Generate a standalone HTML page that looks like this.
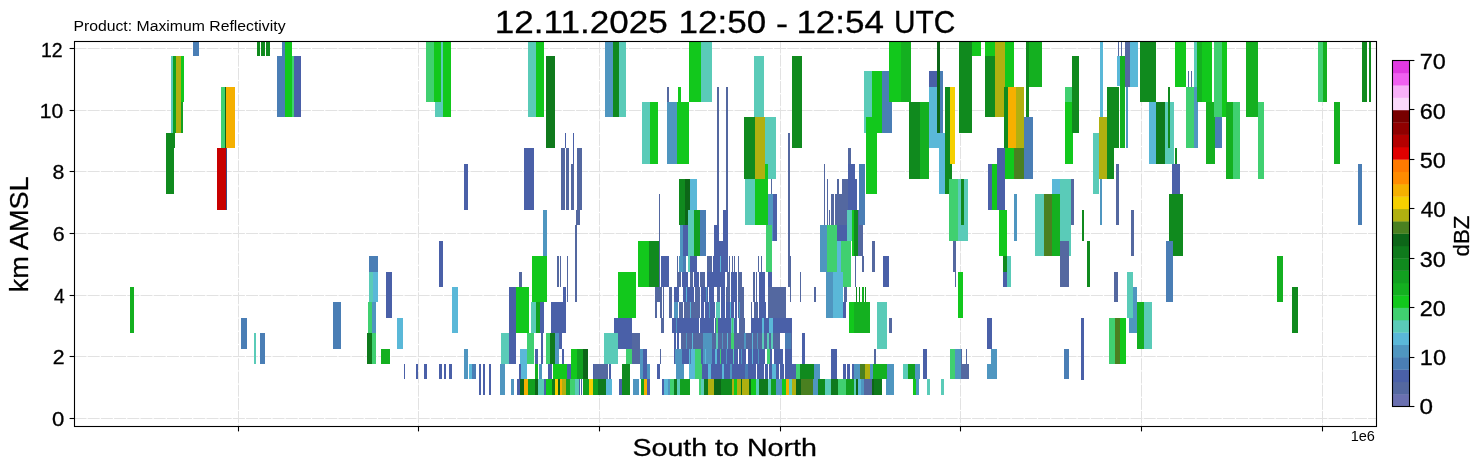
<!DOCTYPE html>
<html><head><meta charset="utf-8"><title>Radar cross-section</title>
<style>html,body{margin:0;padding:0;background:#fff;width:1482px;height:470px;overflow:hidden}body{position:relative}</style>
</head><body>
<svg width="1482" height="470" viewBox="0 0 1482 470" style="position:absolute;left:0;top:0;will-change:transform">
<rect x="0" y="0" width="1482" height="470" fill="#fff"/>
<g stroke="#e2e2e2" stroke-width="1" stroke-dasharray="12 1.2"><line x1="74.5" y1="418.50" x2="1376.5" y2="418.50"/><line x1="74.5" y1="356.50" x2="1376.5" y2="356.50"/><line x1="74.5" y1="295.50" x2="1376.5" y2="295.50"/><line x1="74.5" y1="233.50" x2="1376.5" y2="233.50"/><line x1="74.5" y1="171.50" x2="1376.5" y2="171.50"/><line x1="74.5" y1="110.50" x2="1376.5" y2="110.50"/><line x1="74.5" y1="48.50" x2="1376.5" y2="48.50"/><line x1="238.50" y1="41.5" x2="238.50" y2="426.5"/><line x1="418.50" y1="41.5" x2="418.50" y2="426.5"/><line x1="599.50" y1="41.5" x2="599.50" y2="426.5"/><line x1="780.50" y1="41.5" x2="780.50" y2="426.5"/><line x1="960.50" y1="41.5" x2="960.50" y2="426.5"/><line x1="1141.50" y1="41.5" x2="1141.50" y2="426.5"/><line x1="1322.50" y1="41.5" x2="1322.50" y2="426.5"/></g>
<g shape-rendering="crispEdges"><rect x="193.0" y="41.5" width="6.0" height="14.1" fill="#4a7eb5"/><rect x="257.0" y="41.5" width="3.0" height="14.1" fill="#108a1e"/><rect x="261.0" y="41.5" width="4.0" height="14.1" fill="#108a1e"/><rect x="266.0" y="41.5" width="4.0" height="14.1" fill="#108a1e"/><rect x="282.4" y="41.5" width="2.1" height="14.1" fill="#4a7eb5"/><rect x="284.5" y="41.5" width="7.5" height="14.1" fill="#12c81c"/><rect x="171.4" y="55.6" width="1.6" height="77.1" fill="#5acbb8"/><rect x="173.3" y="55.6" width="2.5" height="77.1" fill="#12a020"/><rect x="175.8" y="55.6" width="5.2" height="77.1" fill="#b0b010"/><rect x="181.0" y="55.6" width="2.9" height="46.3" fill="#12c81c"/><rect x="181.0" y="101.9" width="2.0" height="30.8" fill="#12a020"/><rect x="166.0" y="132.7" width="9.0" height="15.4" fill="#108a1e"/><rect x="166.0" y="148.1" width="7.6" height="46.3" fill="#108a1e"/><rect x="221.4" y="86.5" width="3.8" height="61.7" fill="#40d070"/><rect x="225.2" y="86.5" width="1.1" height="61.7" fill="#0d6618"/><rect x="226.3" y="86.5" width="8.7" height="61.7" fill="#f5b000"/><rect x="217.3" y="148.1" width="9.0" height="61.7" fill="#c80000"/><rect x="225.5" y="148.1" width="1.0" height="61.7" fill="#3c4a80"/><rect x="277.0" y="55.6" width="7.5" height="61.7" fill="#4a7eb5"/><rect x="284.5" y="55.6" width="7.9" height="61.7" fill="#12c81c"/><rect x="292.4" y="55.6" width="1.6" height="61.7" fill="#40d070"/><rect x="294.0" y="55.6" width="6.8" height="61.7" fill="#4a60a8"/><rect x="130.1" y="286.9" width="3.9" height="46.3" fill="#14b020"/><rect x="241.0" y="317.8" width="5.8" height="30.8" fill="#4a7eb5"/><rect x="254.2" y="333.2" width="1.8" height="30.8" fill="#5acbb8"/><rect x="260.0" y="333.2" width="5.0" height="30.8" fill="#4a7eb5"/><rect x="332.8" y="302.4" width="8.2" height="46.3" fill="#4a7eb5"/><rect x="426.0" y="41.5" width="8.0" height="60.4" fill="#40d070"/><rect x="434.0" y="41.5" width="7.0" height="60.4" fill="#12c81c"/><rect x="435.0" y="101.9" width="8.0" height="15.4" fill="#5acbb8"/><rect x="441.0" y="41.5" width="2.6" height="60.4" fill="#5acbb8"/><rect x="443.0" y="41.5" width="7.7" height="75.8" fill="#12c81c"/><rect x="528.0" y="41.5" width="7.8" height="75.8" fill="#5acbb8"/><rect x="535.8" y="41.5" width="7.8" height="75.8" fill="#12c81c"/><rect x="546.0" y="55.6" width="8.7" height="92.5" fill="#0f7a1c"/><rect x="464.0" y="163.6" width="4.0" height="46.3" fill="#4a60a8"/><rect x="524.4" y="148.1" width="9.6" height="61.7" fill="#4a60a8"/><rect x="565.0" y="132.7" width="1.0" height="15.4" fill="#4a60a8"/><rect x="573.0" y="132.7" width="1.0" height="30.8" fill="#4a60a8"/><rect x="561.0" y="148.1" width="3.7" height="61.7" fill="#5468a0"/><rect x="565.6" y="148.1" width="3.1" height="61.7" fill="#5468a0"/><rect x="570.8" y="163.6" width="2.7" height="46.3" fill="#5468a0"/><rect x="577.0" y="148.1" width="4.7" height="61.7" fill="#5468a0"/><rect x="576.0" y="209.8" width="3.6" height="15.4" fill="#5468a0"/><rect x="575.2" y="225.2" width="1.8" height="77.1" fill="#5468a0"/><rect x="543.0" y="209.8" width="3.8" height="46.3" fill="#4f96c0"/><rect x="439.3" y="240.7" width="3.5" height="46.3" fill="#4a60a8"/><rect x="369.0" y="256.1" width="4.5" height="15.4" fill="#4a7eb5"/><rect x="374.0" y="256.1" width="3.9" height="15.4" fill="#4a7eb5"/><rect x="369.0" y="271.5" width="4.0" height="30.8" fill="#5acbb8"/><rect x="373.0" y="271.5" width="4.9" height="30.8" fill="#5ab8d8"/><rect x="386.0" y="271.5" width="6.0" height="46.3" fill="#4a60a8"/><rect x="452.0" y="286.9" width="6.0" height="46.3" fill="#5ab8d8"/><rect x="509.0" y="286.9" width="6.6" height="77.1" fill="#4a60a8"/><rect x="515.6" y="286.9" width="13.1" height="46.3" fill="#12c81c"/><rect x="519.0" y="271.5" width="2.7" height="15.4" fill="#5468a0"/><rect x="532.0" y="256.1" width="14.8" height="46.3" fill="#12c81c"/><rect x="557.0" y="256.1" width="2.0" height="30.8" fill="#5468a0"/><rect x="560.0" y="256.1" width="1.0" height="30.8" fill="#5468a0"/><rect x="567.0" y="256.1" width="1.0" height="46.3" fill="#5468a0"/><rect x="563.0" y="286.9" width="3.0" height="46.3" fill="#4a60a8"/><rect x="368.0" y="302.4" width="3.7" height="30.8" fill="#40d070"/><rect x="371.7" y="302.4" width="4.3" height="30.8" fill="#4f96c0"/><rect x="367.3" y="333.2" width="4.4" height="30.8" fill="#0f7a1c"/><rect x="371.7" y="333.2" width="4.3" height="30.8" fill="#40d070"/><rect x="397.0" y="317.8" width="5.8" height="30.8" fill="#5ab8d8"/><rect x="381.0" y="348.6" width="8.8" height="15.4" fill="#14b020"/><rect x="464.0" y="348.6" width="4.0" height="30.8" fill="#4f96c0"/><rect x="501.0" y="333.2" width="8.0" height="30.8" fill="#5acbb8"/><rect x="520.0" y="348.6" width="7.0" height="30.8" fill="#5ab8d8"/><rect x="527.0" y="333.2" width="7.0" height="30.8" fill="#40d070"/><rect x="531.4" y="302.4" width="4.4" height="30.8" fill="#5acbb8"/><rect x="535.8" y="302.4" width="4.2" height="30.8" fill="#12a020"/><rect x="540.0" y="302.4" width="3.6" height="30.8" fill="#4a60a8"/><rect x="541.0" y="333.2" width="2.0" height="30.8" fill="#4a60a8"/><rect x="535.0" y="348.6" width="3.0" height="15.4" fill="#4a60a8"/><rect x="551.0" y="302.4" width="14.6" height="30.8" fill="#4a60a8"/><rect x="546.0" y="333.2" width="4.0" height="30.8" fill="#40d070"/><rect x="550.0" y="333.2" width="5.0" height="30.8" fill="#0f7a1c"/><rect x="555.0" y="333.2" width="4.4" height="30.8" fill="#4f96c0"/><rect x="559.4" y="333.2" width="2.6" height="15.4" fill="#4a60a8"/><rect x="562.0" y="348.6" width="2.0" height="15.4" fill="#4a60a8"/><rect x="571.0" y="348.6" width="6.0" height="30.8" fill="#12c81c"/><rect x="577.0" y="348.6" width="5.5" height="30.8" fill="#12a020"/><rect x="582.5" y="348.6" width="5.9" height="30.8" fill="#0d6618"/><rect x="404.0" y="364.0" width="1.0" height="15.4" fill="#4a60a8"/><rect x="416.0" y="364.0" width="2.0" height="15.4" fill="#4a60a8"/><rect x="424.0" y="364.0" width="2.6" height="15.4" fill="#4a60a8"/><rect x="439.0" y="364.0" width="2.5" height="15.4" fill="#4a60a8"/><rect x="444.0" y="364.0" width="2.0" height="15.4" fill="#4a60a8"/><rect x="449.0" y="364.0" width="3.0" height="15.4" fill="#4a60a8"/><rect x="469.0" y="364.0" width="2.7" height="15.4" fill="#5ab8d8"/><rect x="471.7" y="364.0" width="4.1" height="15.4" fill="#4a7eb5"/><rect x="478.7" y="364.0" width="2.3" height="30.8" fill="#4a60a8"/><rect x="482.8" y="364.0" width="2.2" height="30.8" fill="#4a60a8"/><rect x="488.7" y="364.0" width="2.3" height="30.8" fill="#4a60a8"/><rect x="500.0" y="364.0" width="5.0" height="30.8" fill="#4f96c0"/><rect x="511.0" y="379.4" width="3.0" height="15.4" fill="#4f96c0"/><rect x="516.5" y="379.4" width="3.5" height="15.4" fill="#4a60a8"/><rect x="519.0" y="364.0" width="1.5" height="15.4" fill="#4a60a8"/><rect x="535.0" y="364.0" width="2.5" height="15.4" fill="#14b020"/><rect x="539.0" y="364.0" width="3.0" height="15.4" fill="#4f96c0"/><rect x="548.0" y="364.0" width="4.0" height="15.4" fill="#4a60a8"/><rect x="552.5" y="364.0" width="14.0" height="15.4" fill="#12c81c"/><rect x="566.5" y="364.0" width="4.5" height="15.4" fill="#4a60a8"/><rect x="592.8" y="364.0" width="1.2" height="15.4" fill="#4a60a8"/><rect x="520.0" y="379.4" width="4.4" height="15.4" fill="#0d6618"/><rect x="524.4" y="379.4" width="3.6" height="15.4" fill="#f5b000"/><rect x="528.0" y="379.4" width="7.0" height="15.4" fill="#12a020"/><rect x="535.0" y="379.4" width="2.5" height="15.4" fill="#0d6618"/><rect x="537.5" y="379.4" width="6.2" height="15.4" fill="#5acbb8"/><rect x="543.7" y="379.4" width="2.6" height="15.4" fill="#4a60a8"/><rect x="546.3" y="379.4" width="5.3" height="15.4" fill="#12c81c"/><rect x="551.6" y="379.4" width="3.8" height="15.4" fill="#0f7a1c"/><rect x="555.4" y="379.4" width="2.3" height="15.4" fill="#f5d000"/><rect x="557.7" y="379.4" width="2.6" height="15.4" fill="#0d6618"/><rect x="560.3" y="379.4" width="1.7" height="15.4" fill="#f5b000"/><rect x="562.0" y="379.4" width="3.6" height="15.4" fill="#b0b010"/><rect x="565.6" y="379.4" width="4.4" height="15.4" fill="#12a020"/><rect x="570.0" y="379.4" width="5.0" height="15.4" fill="#40d070"/><rect x="575.0" y="379.4" width="3.7" height="15.4" fill="#5acbb8"/><rect x="579.0" y="379.4" width="1.0" height="15.4" fill="#4a60a8"/><rect x="581.0" y="379.4" width="1.0" height="15.4" fill="#4a60a8"/><rect x="583.0" y="379.4" width="6.3" height="15.4" fill="#12a020"/><rect x="589.3" y="379.4" width="3.5" height="15.4" fill="#f5d000"/><rect x="592.8" y="379.4" width="1.2" height="15.4" fill="#12a020"/><rect x="605.4" y="41.5" width="7.6" height="75.8" fill="#4f96c0"/><rect x="613.0" y="41.5" width="6.4" height="75.8" fill="#108a1e"/><rect x="619.4" y="41.5" width="6.6" height="75.8" fill="#5acbb8"/><rect x="642.0" y="101.9" width="8.0" height="61.7" fill="#5acbb8"/><rect x="650.0" y="101.9" width="7.7" height="61.7" fill="#12c81c"/><rect x="667.3" y="86.5" width="1.7" height="15.4" fill="#5468a0"/><rect x="667.3" y="101.9" width="9.7" height="61.7" fill="#4f96c0"/><rect x="678.0" y="86.5" width="3.0" height="15.4" fill="#12c81c"/><rect x="677.0" y="101.9" width="11.7" height="61.7" fill="#12c81c"/><rect x="689.0" y="41.5" width="12.0" height="60.4" fill="#12c81c"/><rect x="701.0" y="41.5" width="11.0" height="60.4" fill="#5acbb8"/><rect x="717.0" y="86.5" width="2.0" height="154.2" fill="#5468a0"/><rect x="726.0" y="86.5" width="2.0" height="123.4" fill="#5468a0"/><rect x="754.0" y="55.6" width="10.0" height="61.7" fill="#5acbb8"/><rect x="744.0" y="117.3" width="11.0" height="61.7" fill="#108a1e"/><rect x="755.0" y="117.3" width="10.0" height="61.7" fill="#b0b010"/><rect x="765.0" y="117.3" width="10.6" height="61.7" fill="#5acbb8"/><rect x="765.0" y="163.6" width="2.7" height="15.4" fill="#12c81c"/><rect x="792.0" y="55.6" width="9.5" height="92.5" fill="#108a1e"/><rect x="788.0" y="132.7" width="2.0" height="154.2" fill="#5468a0"/><rect x="823.6" y="163.6" width="1.4" height="61.7" fill="#5468a0"/><rect x="826.8" y="179.0" width="1.2" height="46.3" fill="#5468a0"/><rect x="829.0" y="209.8" width="1.0" height="15.4" fill="#5468a0"/><rect x="831.0" y="194.4" width="3.0" height="30.8" fill="#5468a0"/><rect x="835.0" y="194.4" width="1.4" height="30.8" fill="#5468a0"/><rect x="836.0" y="194.4" width="5.7" height="30.8" fill="#5468a0"/><rect x="837.4" y="179.0" width="1.6" height="15.4" fill="#5468a0"/><rect x="841.7" y="179.0" width="6.3" height="46.3" fill="#5468a0"/><rect x="848.0" y="148.1" width="3.3" height="15.4" fill="#5468a0"/><rect x="848.0" y="163.6" width="6.5" height="46.3" fill="#4a60a8"/><rect x="854.5" y="179.0" width="2.1" height="30.8" fill="#4a60a8"/><rect x="856.6" y="209.8" width="8.4" height="15.4" fill="#5468a0"/><rect x="679.0" y="179.0" width="6.0" height="46.3" fill="#108a1e"/><rect x="685.0" y="179.0" width="5.0" height="46.3" fill="#0d6618"/><rect x="690.0" y="179.0" width="6.6" height="30.8" fill="#5ab8d8"/><rect x="688.0" y="209.8" width="6.0" height="46.3" fill="#5acbb8"/><rect x="694.0" y="209.8" width="6.0" height="46.3" fill="#12a020"/><rect x="700.0" y="209.8" width="5.8" height="46.3" fill="#4a7eb5"/><rect x="680.0" y="225.2" width="3.0" height="30.8" fill="#4f96c0"/><rect x="683.0" y="225.2" width="5.0" height="30.8" fill="#4a60a8"/><rect x="659.0" y="194.4" width="1.0" height="107.9" fill="#5468a0"/><rect x="638.0" y="240.7" width="11.0" height="46.3" fill="#12c81c"/><rect x="649.0" y="240.7" width="10.0" height="46.3" fill="#108a1e"/><rect x="714.0" y="225.2" width="5.0" height="30.8" fill="#4a60a8"/><rect x="723.0" y="209.8" width="5.0" height="46.3" fill="#4a60a8"/><rect x="719.0" y="240.7" width="4.0" height="15.4" fill="#4a60a8"/><rect x="745.0" y="179.0" width="10.0" height="46.3" fill="#5acbb8"/><rect x="755.0" y="179.0" width="13.0" height="46.3" fill="#12c81c"/><rect x="771.0" y="179.0" width="1.0" height="30.8" fill="#5468a0"/><rect x="768.0" y="194.4" width="5.0" height="46.3" fill="#4f96c0"/><rect x="773.0" y="194.4" width="4.0" height="46.3" fill="#4a60a8"/><rect x="766.4" y="225.2" width="5.6" height="46.3" fill="#40d070"/><rect x="819.5" y="225.2" width="7.8" height="46.3" fill="#4f96c0"/><rect x="827.3" y="225.2" width="9.7" height="46.3" fill="#40d070"/><rect x="837.0" y="225.2" width="9.6" height="15.4" fill="#4a60a8"/><rect x="846.6" y="209.8" width="5.4" height="30.8" fill="#5acbb8"/><rect x="852.0" y="209.8" width="2.0" height="46.3" fill="#12c81c"/><rect x="837.0" y="240.7" width="4.0" height="46.3" fill="#5ab8d8"/><rect x="841.0" y="240.7" width="10.0" height="46.3" fill="#40d070"/><rect x="661.0" y="256.1" width="7.6" height="30.8" fill="#4a60a8"/><rect x="677.3" y="271.5" width="3.7" height="15.4" fill="#5468a0"/><rect x="682.4" y="271.5" width="5.6" height="15.4" fill="#4a60a8"/><rect x="689.5" y="271.5" width="3.0" height="15.4" fill="#5468a0"/><rect x="694.0" y="271.5" width="4.6" height="15.4" fill="#4a60a8"/><rect x="700.0" y="271.5" width="5.0" height="15.4" fill="#5468a0"/><rect x="706.7" y="271.5" width="18.3" height="15.4" fill="#4a60a8"/><rect x="727.0" y="271.5" width="3.0" height="15.4" fill="#5468a0"/><rect x="731.0" y="271.5" width="6.0" height="15.4" fill="#4a60a8"/><rect x="738.0" y="271.5" width="4.0" height="15.4" fill="#5468a0"/><rect x="677.3" y="256.1" width="0.7" height="15.4" fill="#5468a0"/><rect x="679.4" y="256.1" width="3.6" height="15.4" fill="#4f96c0"/><rect x="683.0" y="256.1" width="3.4" height="15.4" fill="#4a7eb5"/><rect x="687.5" y="256.1" width="2.5" height="15.4" fill="#5acbb8"/><rect x="690.0" y="256.1" width="7.2" height="15.4" fill="#4a60a8"/><rect x="707.0" y="256.1" width="4.8" height="15.4" fill="#5468a0"/><rect x="713.4" y="256.1" width="14.1" height="15.4" fill="#4a60a8"/><rect x="720.0" y="256.1" width="1.0" height="15.4" fill="#5ab8d8"/><rect x="729.0" y="256.1" width="1.0" height="15.4" fill="#5468a0"/><rect x="731.5" y="256.1" width="1.0" height="15.4" fill="#5468a0"/><rect x="733.5" y="256.1" width="1.0" height="15.4" fill="#5468a0"/><rect x="737.5" y="256.1" width="1.3" height="15.4" fill="#5468a0"/><rect x="758.3" y="256.1" width="1.0" height="15.4" fill="#5468a0"/><rect x="760.5" y="256.1" width="1.5" height="15.4" fill="#5468a0"/><rect x="753.0" y="271.5" width="2.0" height="30.8" fill="#5468a0"/><rect x="756.0" y="271.5" width="1.0" height="30.8" fill="#5468a0"/><rect x="759.0" y="271.5" width="6.4" height="30.8" fill="#4a60a8"/><rect x="768.4" y="271.5" width="3.6" height="15.4" fill="#4a60a8"/><rect x="790.0" y="256.1" width="1.0" height="46.3" fill="#5468a0"/><rect x="618.0" y="271.5" width="18.0" height="46.3" fill="#12c81c"/><rect x="655.0" y="286.9" width="3.6" height="15.4" fill="#5468a0"/><rect x="660.0" y="286.9" width="1.6" height="15.4" fill="#5468a0"/><rect x="663.0" y="286.9" width="1.0" height="15.4" fill="#5468a0"/><rect x="669.0" y="286.9" width="3.0" height="15.4" fill="#5468a0"/><rect x="674.0" y="286.9" width="5.0" height="15.4" fill="#4a60a8"/><rect x="683.0" y="286.9" width="10.5" height="15.4" fill="#4a60a8"/><rect x="694.5" y="286.9" width="5.1" height="15.4" fill="#5468a0"/><rect x="700.6" y="286.9" width="13.2" height="15.4" fill="#4a60a8"/><rect x="716.8" y="286.9" width="3.2" height="15.4" fill="#5468a0"/><rect x="721.0" y="286.9" width="4.0" height="15.4" fill="#4a60a8"/><rect x="726.4" y="286.9" width="3.6" height="15.4" fill="#5468a0"/><rect x="731.0" y="286.9" width="6.0" height="15.4" fill="#4a60a8"/><rect x="737.5" y="286.9" width="6.1" height="15.4" fill="#5468a0"/><rect x="768.4" y="286.9" width="17.2" height="30.8" fill="#5468a0"/><rect x="800.2" y="271.5" width="1.1" height="30.8" fill="#5468a0"/><rect x="854.5" y="256.1" width="1.5" height="30.8" fill="#5468a0"/><rect x="843.8" y="286.9" width="3.2" height="15.4" fill="#5468a0"/><rect x="814.0" y="286.9" width="2.0" height="15.4" fill="#5468a0"/><rect x="825.7" y="271.5" width="7.3" height="46.3" fill="#4f96c0"/><rect x="833.0" y="271.5" width="9.8" height="46.3" fill="#5ab8d8"/><rect x="843.0" y="302.4" width="3.0" height="15.4" fill="#4a60a8"/><rect x="849.0" y="302.4" width="5.0" height="30.8" fill="#12c81c"/><rect x="655.0" y="302.4" width="2.0" height="15.4" fill="#5468a0"/><rect x="660.0" y="302.4" width="1.6" height="15.4" fill="#5468a0"/><rect x="663.0" y="302.4" width="1.0" height="15.4" fill="#5468a0"/><rect x="669.0" y="302.4" width="3.0" height="15.4" fill="#5468a0"/><rect x="674.0" y="302.4" width="4.4" height="15.4" fill="#4f96c0"/><rect x="679.4" y="302.4" width="20.2" height="15.4" fill="#5468a0"/><rect x="700.6" y="302.4" width="14.2" height="15.4" fill="#4a60a8"/><rect x="715.8" y="302.4" width="4.2" height="15.4" fill="#5acbb8"/><rect x="721.0" y="302.4" width="16.0" height="15.4" fill="#4a60a8"/><rect x="738.0" y="302.4" width="5.6" height="15.4" fill="#5468a0"/><rect x="751.0" y="302.4" width="1.0" height="15.4" fill="#5468a0"/><rect x="754.0" y="302.4" width="3.5" height="15.4" fill="#5468a0"/><rect x="759.0" y="302.4" width="7.0" height="15.4" fill="#4a60a8"/><rect x="614.0" y="317.8" width="18.0" height="30.8" fill="#4a60a8"/><rect x="661.0" y="317.8" width="2.7" height="15.4" fill="#5468a0"/><rect x="672.0" y="317.8" width="65.0" height="15.4" fill="#4a60a8"/><rect x="739.0" y="317.8" width="6.0" height="15.4" fill="#5468a0"/><rect x="749.7" y="317.8" width="42.0" height="15.4" fill="#4a60a8"/><rect x="699.0" y="317.8" width="1.0" height="15.4" fill="#5ab8d8"/><rect x="715.8" y="317.8" width="2.5" height="15.4" fill="#5acbb8"/><rect x="731.0" y="317.8" width="3.0" height="15.4" fill="#5acbb8"/><rect x="604.0" y="333.2" width="14.0" height="30.8" fill="#5acbb8"/><rect x="632.0" y="333.2" width="8.0" height="30.8" fill="#5468a0"/><rect x="674.0" y="333.2" width="5.0" height="15.4" fill="#4a60a8"/><rect x="680.0" y="333.2" width="111.7" height="15.4" fill="#5468a0"/><rect x="702.6" y="333.2" width="9.6" height="15.4" fill="#4f96c0"/><rect x="780.0" y="333.2" width="4.6" height="15.4" fill="#fff"/><rect x="715.8" y="333.2" width="2.2" height="15.4" fill="#5acbb8"/><rect x="731.0" y="333.2" width="3.0" height="15.4" fill="#40d070"/><rect x="762.0" y="333.2" width="2.0" height="15.4" fill="#5acbb8"/><rect x="767.0" y="333.2" width="2.0" height="15.4" fill="#5acbb8"/><rect x="771.0" y="333.2" width="2.0" height="15.4" fill="#5acbb8"/><rect x="802.0" y="333.2" width="2.5" height="30.8" fill="#4a60a8"/><rect x="785.0" y="333.2" width="5.5" height="46.3" fill="#4a7eb5"/><rect x="625.6" y="348.6" width="6.1" height="15.4" fill="#40d070"/><rect x="640.0" y="348.6" width="3.0" height="30.8" fill="#4f96c0"/><rect x="643.0" y="348.6" width="3.6" height="30.8" fill="#4a60a8"/><rect x="660.0" y="348.6" width="1.0" height="15.4" fill="#5468a0"/><rect x="674.0" y="348.6" width="117.7" height="15.4" fill="#4a60a8"/><rect x="675.0" y="348.6" width="7.4" height="15.4" fill="#4f96c0"/><rect x="689.0" y="348.6" width="5.5" height="15.4" fill="#5ab8d8"/><rect x="694.5" y="348.6" width="6.5" height="15.4" fill="#40d070"/><rect x="702.6" y="348.6" width="9.6" height="15.4" fill="#4f96c0"/><rect x="738.0" y="348.6" width="1.0" height="15.4" fill="#fff"/><rect x="747.0" y="348.6" width="1.0" height="15.4" fill="#fff"/><rect x="765.4" y="348.6" width="1.0" height="15.4" fill="#fff"/><rect x="767.4" y="348.6" width="3.0" height="15.4" fill="#40d070"/><rect x="772.0" y="348.6" width="1.5" height="15.4" fill="#fff"/><rect x="782.5" y="348.6" width="2.0" height="15.4" fill="#fff"/><rect x="831.0" y="348.6" width="6.0" height="30.8" fill="#4a60a8"/><rect x="594.0" y="364.0" width="14.0" height="15.4" fill="#5468a0"/><rect x="609.0" y="364.0" width="2.0" height="15.4" fill="#4a60a8"/><rect x="622.0" y="364.0" width="8.0" height="30.8" fill="#108a1e"/><rect x="646.6" y="364.0" width="3.4" height="15.4" fill="#4f96c0"/><rect x="657.0" y="364.0" width="3.0" height="15.4" fill="#4a60a8"/><rect x="676.3" y="364.0" width="7.7" height="15.4" fill="#4f96c0"/><rect x="689.0" y="364.0" width="6.0" height="15.4" fill="#5ab8d8"/><rect x="695.0" y="364.0" width="6.6" height="15.4" fill="#40d070"/><rect x="701.6" y="364.0" width="98.4" height="15.4" fill="#4a60a8"/><rect x="708.0" y="364.0" width="3.0" height="15.4" fill="#5ab8d8"/><rect x="722.0" y="364.0" width="2.0" height="15.4" fill="#5ab8d8"/><rect x="730.0" y="364.0" width="2.0" height="15.4" fill="#4f96c0"/><rect x="745.0" y="364.0" width="3.0" height="15.4" fill="#4a7eb5"/><rect x="756.0" y="364.0" width="1.0" height="15.4" fill="#fff"/><rect x="764.4" y="364.0" width="1.0" height="15.4" fill="#fff"/><rect x="768.4" y="364.0" width="1.0" height="15.4" fill="#fff"/><rect x="772.0" y="364.0" width="4.0" height="15.4" fill="#5ab8d8"/><rect x="778.5" y="364.0" width="1.0" height="15.4" fill="#fff"/><rect x="783.6" y="364.0" width="1.4" height="15.4" fill="#fff"/><rect x="796.0" y="364.0" width="4.0" height="15.4" fill="#40d070"/><rect x="800.0" y="364.0" width="14.0" height="30.8" fill="#108a1e"/><rect x="814.0" y="364.0" width="5.5" height="15.4" fill="#4f96c0"/><rect x="843.0" y="364.0" width="3.0" height="15.4" fill="#4a60a8"/><rect x="846.5" y="364.0" width="3.0" height="15.4" fill="#4a60a8"/><rect x="851.5" y="364.0" width="2.5" height="15.4" fill="#4a60a8"/><rect x="594.0" y="379.4" width="3.5" height="15.4" fill="#12a020"/><rect x="597.5" y="379.4" width="8.5" height="15.4" fill="#0f7a1c"/><rect x="606.0" y="379.4" width="5.5" height="15.4" fill="#5ab8d8"/><rect x="618.5" y="379.4" width="3.5" height="15.4" fill="#4a60a8"/><rect x="632.6" y="379.4" width="6.1" height="15.4" fill="#4f96c0"/><rect x="641.4" y="379.4" width="2.6" height="15.4" fill="#12a020"/><rect x="644.0" y="379.4" width="2.6" height="15.4" fill="#f5b000"/><rect x="646.6" y="379.4" width="3.4" height="15.4" fill="#4a60a8"/><rect x="662.0" y="379.4" width="2.0" height="15.4" fill="#4a60a8"/><rect x="664.0" y="379.4" width="4.2" height="15.4" fill="#5ab8d8"/><rect x="668.2" y="379.4" width="2.0" height="15.4" fill="#4f96c0"/><rect x="670.2" y="379.4" width="4.1" height="15.4" fill="#40d070"/><rect x="674.3" y="379.4" width="2.5" height="15.4" fill="#0f7a1c"/><rect x="676.8" y="379.4" width="3.6" height="15.4" fill="#5acbb8"/><rect x="680.4" y="379.4" width="9.1" height="15.4" fill="#12a020"/><rect x="698.6" y="379.4" width="2.0" height="15.4" fill="#40d070"/><rect x="700.6" y="379.4" width="3.4" height="15.4" fill="#5acbb8"/><rect x="704.0" y="379.4" width="4.2" height="15.4" fill="#0f7a1c"/><rect x="708.2" y="379.4" width="6.1" height="15.4" fill="#b0b010"/><rect x="714.3" y="379.4" width="6.7" height="15.4" fill="#0d6618"/><rect x="721.0" y="379.4" width="11.0" height="15.4" fill="#108a1e"/><rect x="732.0" y="379.4" width="2.0" height="15.4" fill="#b0b010"/><rect x="734.0" y="379.4" width="3.0" height="15.4" fill="#12c81c"/><rect x="737.0" y="379.4" width="3.6" height="15.4" fill="#b0b010"/><rect x="740.6" y="379.4" width="1.4" height="15.4" fill="#0d6618"/><rect x="742.0" y="379.4" width="7.0" height="15.4" fill="#b0b010"/><rect x="749.0" y="379.4" width="2.2" height="15.4" fill="#0d6618"/><rect x="751.2" y="379.4" width="4.6" height="15.4" fill="#12c81c"/><rect x="755.8" y="379.4" width="3.0" height="15.4" fill="#5acbb8"/><rect x="758.8" y="379.4" width="9.2" height="15.4" fill="#0f7a1c"/><rect x="768.0" y="379.4" width="3.0" height="15.4" fill="#5acbb8"/><rect x="771.0" y="379.4" width="4.5" height="15.4" fill="#12a020"/><rect x="775.5" y="379.4" width="6.1" height="15.4" fill="#4f96c0"/><rect x="781.6" y="379.4" width="4.0" height="15.4" fill="#12c81c"/><rect x="785.6" y="379.4" width="3.4" height="15.4" fill="#f5b000"/><rect x="789.0" y="379.4" width="2.7" height="15.4" fill="#5acbb8"/><rect x="791.7" y="379.4" width="4.3" height="15.4" fill="#b0b010"/><rect x="796.0" y="379.4" width="5.0" height="15.4" fill="#0d6618"/><rect x="801.0" y="379.4" width="12.0" height="15.4" fill="#4a8020"/><rect x="813.0" y="379.4" width="5.0" height="15.4" fill="#4f96c0"/><rect x="818.0" y="379.4" width="7.0" height="15.4" fill="#108a1e"/><rect x="825.0" y="379.4" width="6.0" height="15.4" fill="#5acbb8"/><rect x="831.0" y="379.4" width="7.0" height="15.4" fill="#0f7a1c"/><rect x="838.0" y="379.4" width="8.0" height="15.4" fill="#40d070"/><rect x="846.0" y="379.4" width="8.0" height="15.4" fill="#12a020"/><rect x="863.6" y="71.1" width="8.8" height="61.7" fill="#5acbb8"/><rect x="872.4" y="71.1" width="9.6" height="61.7" fill="#12c81c"/><rect x="882.0" y="71.1" width="9.7" height="61.7" fill="#4a7eb5"/><rect x="889.0" y="41.5" width="11.5" height="60.4" fill="#12c81c"/><rect x="900.5" y="41.5" width="10.5" height="60.4" fill="#14b020"/><rect x="909.0" y="101.9" width="11.0" height="77.1" fill="#108a1e"/><rect x="920.0" y="101.9" width="9.4" height="77.1" fill="#14b020"/><rect x="929.4" y="71.1" width="7.9" height="15.4" fill="#4a60a8"/><rect x="929.4" y="86.5" width="10.6" height="61.7" fill="#5ab8d8"/><rect x="937.3" y="41.5" width="2.7" height="91.2" fill="#0d6618"/><rect x="940.0" y="71.1" width="2.6" height="61.7" fill="#4a7eb5"/><rect x="939.0" y="132.7" width="6.0" height="61.7" fill="#5ab8d8"/><rect x="945.0" y="86.5" width="5.0" height="77.1" fill="#108a1e"/><rect x="950.0" y="86.5" width="5.0" height="77.1" fill="#f5d000"/><rect x="945.0" y="163.6" width="7.0" height="30.8" fill="#108a1e"/><rect x="959.0" y="41.5" width="13.0" height="91.2" fill="#108a1e"/><rect x="972.0" y="41.5" width="8.7" height="14.1" fill="#12c81c"/><rect x="985.0" y="41.5" width="10.0" height="14.1" fill="#12c81c"/><rect x="985.0" y="55.6" width="10.0" height="61.7" fill="#108a1e"/><rect x="995.0" y="41.5" width="10.0" height="75.8" fill="#b0b010"/><rect x="1005.0" y="41.5" width="9.0" height="45.0" fill="#12c81c"/><rect x="1004.0" y="86.5" width="3.5" height="92.5" fill="#108a1e"/><rect x="1007.5" y="86.5" width="8.8" height="61.7" fill="#f5b000"/><rect x="1016.3" y="86.5" width="7.7" height="61.7" fill="#b0b010"/><rect x="1025.6" y="41.5" width="3.8" height="91.2" fill="#108a1e"/><rect x="1029.4" y="41.5" width="12.3" height="45.0" fill="#14b020"/><rect x="1005.0" y="148.1" width="8.7" height="30.8" fill="#12c81c"/><rect x="1013.7" y="148.1" width="10.3" height="30.8" fill="#4a8020"/><rect x="1024.0" y="117.3" width="9.0" height="61.7" fill="#4a7eb5"/><rect x="997.0" y="148.1" width="8.0" height="61.7" fill="#4a60a8"/><rect x="988.0" y="163.6" width="3.7" height="46.3" fill="#4a60a8"/><rect x="991.7" y="163.6" width="5.3" height="46.3" fill="#12c81c"/><rect x="1064.5" y="86.5" width="7.9" height="15.4" fill="#40d070"/><rect x="1064.5" y="101.9" width="8.9" height="61.7" fill="#12c81c"/><rect x="1072.4" y="55.6" width="6.2" height="77.1" fill="#108a1e"/><rect x="1099.6" y="41.5" width="3.4" height="75.8" fill="#5ab8d8"/><rect x="1092.6" y="132.7" width="6.1" height="61.7" fill="#5acbb8"/><rect x="1098.7" y="117.3" width="7.9" height="61.7" fill="#b0b010"/><rect x="1106.6" y="86.5" width="7.4" height="77.1" fill="#108a1e"/><rect x="866.0" y="117.3" width="11.0" height="77.1" fill="#12c81c"/><rect x="859.0" y="163.6" width="6.4" height="61.7" fill="#4a7eb5"/><rect x="858.0" y="225.2" width="5.0" height="30.8" fill="#5468a0"/><rect x="854.0" y="209.8" width="3.5" height="46.3" fill="#108a1e"/><rect x="949.0" y="179.0" width="9.4" height="61.7" fill="#40d070"/><rect x="958.4" y="179.0" width="9.6" height="61.7" fill="#5acbb8"/><rect x="961.0" y="179.0" width="2.5" height="46.3" fill="#108a1e"/><rect x="999.0" y="209.8" width="7.6" height="46.3" fill="#12c81c"/><rect x="1014.0" y="194.4" width="3.0" height="46.3" fill="#4f96c0"/><rect x="1034.7" y="194.4" width="9.7" height="61.7" fill="#5acbb8"/><rect x="1044.4" y="194.4" width="7.9" height="61.7" fill="#4a8020"/><rect x="1052.3" y="194.4" width="7.7" height="61.7" fill="#14b020"/><rect x="1052.3" y="179.0" width="7.7" height="15.4" fill="#5ab8d8"/><rect x="1060.0" y="179.0" width="10.7" height="77.1" fill="#5acbb8"/><rect x="1070.7" y="179.0" width="3.3" height="46.3" fill="#5468a0"/><rect x="1082.0" y="209.8" width="2.0" height="30.8" fill="#108a1e"/><rect x="1091.7" y="194.4" width="6.3" height="0.0" fill="#5acbb8"/><rect x="1099.6" y="179.0" width="2.1" height="46.3" fill="#4f96c0"/><rect x="1106.6" y="163.6" width="7.4" height="15.4" fill="#108a1e"/><rect x="861.5" y="256.1" width="2.0" height="15.4" fill="#5468a0"/><rect x="871.5" y="240.7" width="3.5" height="30.8" fill="#5468a0"/><rect x="883.0" y="256.1" width="6.0" height="30.8" fill="#4a60a8"/><rect x="955.0" y="256.1" width="1.0" height="30.8" fill="#5468a0"/><rect x="953.0" y="240.7" width="3.0" height="30.8" fill="#5468a0"/><rect x="958.4" y="271.5" width="4.6" height="46.3" fill="#12c81c"/><rect x="1003.0" y="256.1" width="3.6" height="15.4" fill="#108a1e"/><rect x="1003.0" y="271.5" width="3.6" height="15.4" fill="#4a60a8"/><rect x="1006.6" y="256.1" width="4.4" height="30.8" fill="#5acbb8"/><rect x="1060.0" y="240.7" width="9.0" height="46.3" fill="#5468a0"/><rect x="1087.0" y="240.7" width="3.0" height="46.3" fill="#108a1e"/><rect x="856.0" y="286.9" width="1.0" height="15.4" fill="#108a1e"/><rect x="859.0" y="286.9" width="1.0" height="15.4" fill="#108a1e"/><rect x="862.0" y="286.9" width="2.0" height="15.4" fill="#14b020"/><rect x="865.0" y="286.9" width="1.0" height="15.4" fill="#108a1e"/><rect x="854.0" y="302.4" width="16.0" height="30.8" fill="#14b020"/><rect x="877.0" y="302.4" width="10.0" height="46.3" fill="#5acbb8"/><rect x="889.0" y="317.8" width="2.7" height="15.4" fill="#5468a0"/><rect x="987.3" y="317.8" width="4.4" height="30.8" fill="#4a60a8"/><rect x="1081.0" y="317.8" width="3.0" height="61.7" fill="#4a60a8"/><rect x="1109.3" y="317.8" width="4.7" height="46.3" fill="#40d070"/><rect x="874.0" y="348.6" width="2.0" height="15.4" fill="#5468a0"/><rect x="923.0" y="348.6" width="4.0" height="30.8" fill="#4a60a8"/><rect x="949.6" y="348.6" width="5.4" height="30.8" fill="#40d070"/><rect x="955.0" y="348.6" width="6.0" height="30.8" fill="#4f96c0"/><rect x="961.0" y="348.6" width="1.0" height="15.4" fill="#5468a0"/><rect x="966.0" y="348.6" width="1.0" height="15.4" fill="#5468a0"/><rect x="961.0" y="364.0" width="8.0" height="15.4" fill="#5468a0"/><rect x="991.0" y="348.6" width="6.0" height="30.8" fill="#4f96c0"/><rect x="987.3" y="364.0" width="3.7" height="15.4" fill="#4f96c0"/><rect x="1064.0" y="348.6" width="5.0" height="30.8" fill="#4a7eb5"/><rect x="854.0" y="364.0" width="6.0" height="15.4" fill="#4f96c0"/><rect x="860.0" y="364.0" width="5.4" height="15.4" fill="#4a8020"/><rect x="865.4" y="364.0" width="4.6" height="15.4" fill="#b0b010"/><rect x="870.0" y="364.0" width="3.0" height="15.4" fill="#4f96c0"/><rect x="873.0" y="364.0" width="14.0" height="15.4" fill="#14b020"/><rect x="887.0" y="364.0" width="7.0" height="15.4" fill="#4f96c0"/><rect x="903.0" y="364.0" width="5.4" height="15.4" fill="#5acbb8"/><rect x="908.4" y="364.0" width="7.0" height="15.4" fill="#12a020"/><rect x="915.4" y="364.0" width="4.6" height="15.4" fill="#4f96c0"/><rect x="854.0" y="379.4" width="2.0" height="15.4" fill="#5acbb8"/><rect x="856.0" y="379.4" width="1.5" height="15.4" fill="#0d6618"/><rect x="857.5" y="379.4" width="3.5" height="15.4" fill="#5ab8d8"/><rect x="861.0" y="379.4" width="2.7" height="15.4" fill="#4f96c0"/><rect x="863.7" y="379.4" width="7.8" height="15.4" fill="#5468a0"/><rect x="871.5" y="379.4" width="2.5" height="15.4" fill="#0d6618"/><rect x="874.0" y="379.4" width="8.0" height="15.4" fill="#0f7a1c"/><rect x="885.6" y="379.4" width="8.4" height="15.4" fill="#4f96c0"/><rect x="913.0" y="379.4" width="3.3" height="15.4" fill="#12c81c"/><rect x="916.3" y="379.4" width="2.7" height="15.4" fill="#4f96c0"/><rect x="927.0" y="379.4" width="3.0" height="15.4" fill="#5acbb8"/><rect x="941.0" y="379.4" width="3.0" height="15.4" fill="#5acbb8"/><rect x="1118.0" y="41.5" width="1.0" height="14.1" fill="#5468a0"/><rect x="1120.5" y="41.5" width="1.0" height="14.1" fill="#5468a0"/><rect x="1116.7" y="55.6" width="3.3" height="30.8" fill="#5ab8d8"/><rect x="1120.0" y="55.6" width="4.6" height="92.5" fill="#14b020"/><rect x="1114.0" y="86.5" width="5.3" height="61.7" fill="#108a1e"/><rect x="1124.6" y="41.5" width="5.4" height="45.0" fill="#5468a0"/><rect x="1130.0" y="41.5" width="8.0" height="45.0" fill="#5ab8d8"/><rect x="1126.0" y="86.5" width="2.0" height="61.7" fill="#4f96c0"/><rect x="1140.0" y="41.5" width="16.4" height="60.4" fill="#108a1e"/><rect x="1148.5" y="101.9" width="7.9" height="61.7" fill="#5ab8d8"/><rect x="1156.4" y="101.9" width="8.9" height="61.7" fill="#0f7a1c"/><rect x="1165.3" y="101.9" width="8.7" height="61.7" fill="#5acbb8"/><rect x="1168.0" y="86.5" width="2.0" height="61.7" fill="#108a1e"/><rect x="1175.0" y="41.5" width="11.0" height="45.0" fill="#12c81c"/><rect x="1188.0" y="71.1" width="1.0" height="15.4" fill="#5468a0"/><rect x="1190.5" y="71.1" width="1.0" height="15.4" fill="#5468a0"/><rect x="1186.0" y="86.5" width="7.6" height="61.7" fill="#40d070"/><rect x="1193.6" y="86.5" width="4.4" height="61.7" fill="#4f96c0"/><rect x="1194.4" y="41.5" width="2.6" height="45.0" fill="#5acbb8"/><rect x="1197.0" y="41.5" width="5.4" height="60.4" fill="#14b020"/><rect x="1202.4" y="41.5" width="9.6" height="60.4" fill="#12c81c"/><rect x="1206.0" y="101.9" width="9.0" height="61.7" fill="#14b020"/><rect x="1214.0" y="41.5" width="8.0" height="75.8" fill="#40d070"/><rect x="1222.0" y="41.5" width="5.0" height="75.8" fill="#12c81c"/><rect x="1215.0" y="117.3" width="7.0" height="30.8" fill="#4a7eb5"/><rect x="1226.0" y="101.9" width="6.5" height="77.1" fill="#14b020"/><rect x="1232.5" y="101.9" width="7.5" height="77.1" fill="#40d070"/><rect x="1246.0" y="41.5" width="12.0" height="75.8" fill="#14b020"/><rect x="1258.0" y="101.9" width="6.0" height="77.1" fill="#40d070"/><rect x="1318.0" y="41.5" width="4.5" height="60.4" fill="#40d070"/><rect x="1322.5" y="41.5" width="4.5" height="60.4" fill="#14b020"/><rect x="1334.0" y="101.9" width="5.5" height="61.7" fill="#14b020"/><rect x="1362.4" y="41.5" width="4.1" height="60.4" fill="#108a1e"/><rect x="1369.0" y="41.5" width="1.7" height="60.4" fill="#108a1e"/><rect x="1116.0" y="163.6" width="3.0" height="61.7" fill="#5468a0"/><rect x="1175.0" y="148.1" width="2.0" height="46.3" fill="#108a1e"/><rect x="1172.4" y="163.6" width="7.6" height="30.8" fill="#4a60a8"/><rect x="1358.4" y="163.6" width="3.6" height="61.7" fill="#4a7eb5"/><rect x="1131.0" y="209.8" width="3.0" height="46.3" fill="#5468a0"/><rect x="1169.0" y="194.4" width="14.0" height="61.7" fill="#108a1e"/><rect x="1166.0" y="240.7" width="6.7" height="61.7" fill="#4a7eb5"/><rect x="1114.0" y="271.5" width="4.0" height="30.8" fill="#5468a0"/><rect x="1127.0" y="271.5" width="5.6" height="46.3" fill="#5acbb8"/><rect x="1132.6" y="286.9" width="4.0" height="46.3" fill="#4f96c0"/><rect x="1129.0" y="317.8" width="3.6" height="15.4" fill="#4f96c0"/><rect x="1277.0" y="256.1" width="6.4" height="46.3" fill="#14b020"/><rect x="1292.0" y="286.9" width="6.0" height="46.3" fill="#108a1e"/><rect x="1114.0" y="317.8" width="1.0" height="46.3" fill="#40d070"/><rect x="1115.0" y="317.8" width="4.6" height="46.3" fill="#4a8020"/><rect x="1119.6" y="317.8" width="6.4" height="46.3" fill="#12c81c"/><rect x="1136.6" y="302.4" width="7.4" height="46.3" fill="#14b020"/><rect x="1144.0" y="302.4" width="7.5" height="46.3" fill="#5acbb8"/><rect x="675.5" y="317.8" width="1.5" height="15.4" fill="#4f96c0"/><rect x="698.5" y="317.8" width="1.5" height="15.4" fill="#5ab8d8"/><rect x="716.4" y="317.8" width="1.6" height="15.4" fill="#40d070"/><rect x="731.7" y="317.8" width="1.7" height="15.4" fill="#40d070"/><rect x="762.4" y="317.8" width="1.6" height="15.4" fill="#5ab8d8"/><rect x="769.0" y="317.8" width="3.6" height="15.4" fill="#5ab8d8"/><rect x="699.4" y="317.8" width="0.8" height="15.4" fill="#fff"/><rect x="714.0" y="317.8" width="0.8" height="15.4" fill="#fff"/><rect x="737.7" y="317.8" width="0.8" height="15.4" fill="#fff"/><rect x="746.0" y="317.8" width="4.5" height="15.4" fill="#fff"/><rect x="778.5" y="317.8" width="0.8" height="15.4" fill="#fff"/><rect x="675.5" y="333.2" width="1.5" height="15.4" fill="#fff"/><rect x="679.8" y="333.2" width="0.8" height="15.4" fill="#fff"/><rect x="738.5" y="333.2" width="0.9" height="15.4" fill="#fff"/><rect x="686.0" y="333.2" width="1.0" height="15.4" fill="#4f96c0"/><rect x="692.0" y="333.2" width="1.0" height="15.4" fill="#5ab8d8"/><rect x="722.0" y="333.2" width="1.0" height="15.4" fill="#4f96c0"/><rect x="727.0" y="333.2" width="1.0" height="15.4" fill="#5ab8d8"/><rect x="744.0" y="333.2" width="1.5" height="15.4" fill="#4f96c0"/><rect x="752.0" y="333.2" width="1.0" height="15.4" fill="#5ab8d8"/><rect x="757.0" y="333.2" width="1.0" height="15.4" fill="#4f96c0"/><rect x="690.0" y="348.6" width="1.0" height="15.4" fill="#4a7eb5"/><rect x="705.0" y="348.6" width="1.0" height="15.4" fill="#5ab8d8"/><rect x="715.0" y="348.6" width="1.5" height="15.4" fill="#5ab8d8"/><rect x="720.0" y="348.6" width="1.0" height="15.4" fill="#40d070"/><rect x="725.5" y="348.6" width="1.0" height="15.4" fill="#4f96c0"/><rect x="733.0" y="348.6" width="1.0" height="15.4" fill="#5acbb8"/><rect x="741.0" y="348.6" width="1.0" height="15.4" fill="#4f96c0"/><rect x="746.0" y="348.6" width="2.0" height="15.4" fill="#fff"/><rect x="752.0" y="348.6" width="1.0" height="15.4" fill="#5ab8d8"/><rect x="758.0" y="348.6" width="1.0" height="15.4" fill="#4f96c0"/><rect x="765.8" y="348.6" width="1.6" height="15.4" fill="#fff"/><rect x="772.6" y="348.6" width="1.7" height="15.4" fill="#fff"/><rect x="683.0" y="302.4" width="1.0" height="15.4" fill="#fff"/><rect x="690.0" y="302.4" width="1.0" height="15.4" fill="#5ab8d8"/><rect x="704.0" y="302.4" width="1.0" height="15.4" fill="#fff"/><rect x="709.0" y="302.4" width="1.0" height="15.4" fill="#4f96c0"/><rect x="725.0" y="302.4" width="1.0" height="15.4" fill="#fff"/><rect x="730.0" y="302.4" width="1.0" height="15.4" fill="#5ab8d8"/><rect x="734.0" y="302.4" width="1.0" height="15.4" fill="#fff"/><rect x="739.0" y="302.4" width="1.0" height="15.4" fill="#4f96c0"/><rect x="686.0" y="286.9" width="1.0" height="15.4" fill="#5ab8d8"/><rect x="705.5" y="286.9" width="1.0" height="15.4" fill="#4f96c0"/><rect x="708.0" y="286.9" width="1.0" height="15.4" fill="#fff"/></g>
<rect x="74.5" y="41.5" width="1302.0" height="385.0" fill="none" stroke="#000" stroke-width="1.1"/>
<g stroke="#000" stroke-width="1.1"><line x1="69.6" y1="418.50" x2="74.5" y2="418.50"/><line x1="69.6" y1="356.50" x2="74.5" y2="356.50"/><line x1="69.6" y1="295.50" x2="74.5" y2="295.50"/><line x1="69.6" y1="233.50" x2="74.5" y2="233.50"/><line x1="69.6" y1="171.50" x2="74.5" y2="171.50"/><line x1="69.6" y1="110.50" x2="74.5" y2="110.50"/><line x1="69.6" y1="48.50" x2="74.5" y2="48.50"/><line x1="238.50" y1="426.5" x2="238.50" y2="431.4"/><line x1="418.50" y1="426.5" x2="418.50" y2="431.4"/><line x1="599.50" y1="426.5" x2="599.50" y2="431.4"/><line x1="780.50" y1="426.5" x2="780.50" y2="431.4"/><line x1="960.50" y1="426.5" x2="960.50" y2="431.4"/><line x1="1141.50" y1="426.5" x2="1141.50" y2="431.4"/><line x1="1322.50" y1="426.5" x2="1322.50" y2="431.4"/></g>
<rect x="1392.5" y="394.14" width="17.0" height="12.66" fill="#6a70b0"/><rect x="1392.5" y="381.79" width="17.0" height="12.66" fill="#5468a0"/><rect x="1392.5" y="369.43" width="17.0" height="12.66" fill="#4a60a8"/><rect x="1392.5" y="357.07" width="17.0" height="12.66" fill="#4a7eb5"/><rect x="1392.5" y="344.71" width="17.0" height="12.66" fill="#4f96c0"/><rect x="1392.5" y="332.36" width="17.0" height="12.66" fill="#5ab8d8"/><rect x="1392.5" y="320.00" width="17.0" height="12.66" fill="#5acbb8"/><rect x="1392.5" y="307.64" width="17.0" height="12.66" fill="#40d070"/><rect x="1392.5" y="295.29" width="17.0" height="12.66" fill="#12c81c"/><rect x="1392.5" y="282.93" width="17.0" height="12.66" fill="#14b020"/><rect x="1392.5" y="270.57" width="17.0" height="12.66" fill="#12a020"/><rect x="1392.5" y="258.21" width="17.0" height="12.66" fill="#108a1e"/><rect x="1392.5" y="245.86" width="17.0" height="12.66" fill="#0f7a1c"/><rect x="1392.5" y="233.50" width="17.0" height="12.66" fill="#0d6618"/><rect x="1392.5" y="221.14" width="17.0" height="12.66" fill="#4a8020"/><rect x="1392.5" y="208.79" width="17.0" height="12.66" fill="#b0b010"/><rect x="1392.5" y="196.43" width="17.0" height="12.66" fill="#f5d000"/><rect x="1392.5" y="184.07" width="17.0" height="12.66" fill="#f5b000"/><rect x="1392.5" y="171.71" width="17.0" height="12.66" fill="#ff8c00"/><rect x="1392.5" y="159.36" width="17.0" height="12.66" fill="#ff7a00"/><rect x="1392.5" y="147.00" width="17.0" height="12.66" fill="#e00000"/><rect x="1392.5" y="134.64" width="17.0" height="12.66" fill="#b40000"/><rect x="1392.5" y="122.29" width="17.0" height="12.66" fill="#900000"/><rect x="1392.5" y="109.93" width="17.0" height="12.66" fill="#780000"/><rect x="1392.5" y="97.57" width="17.0" height="12.66" fill="#fad8fa"/><rect x="1392.5" y="85.21" width="17.0" height="12.66" fill="#f8b0f8"/><rect x="1392.5" y="72.86" width="17.0" height="12.66" fill="#f060f0"/><rect x="1392.5" y="60.50" width="17.0" height="12.66" fill="#e03ae0"/>
<rect x="1392.5" y="60.5" width="17.0" height="346.0" fill="none" stroke="#000" stroke-width="1.1"/>
<g stroke="#000" stroke-width="1.1"><line x1="1409.5" y1="406.50" x2="1414.4" y2="406.50"/><line x1="1409.5" y1="357.50" x2="1414.4" y2="357.50"/><line x1="1409.5" y1="307.50" x2="1414.4" y2="307.50"/><line x1="1409.5" y1="258.50" x2="1414.4" y2="258.50"/><line x1="1409.5" y1="208.50" x2="1414.4" y2="208.50"/><line x1="1409.5" y1="159.50" x2="1414.4" y2="159.50"/><line x1="1409.5" y1="109.50" x2="1414.4" y2="109.50"/><line x1="1409.5" y1="60.50" x2="1414.4" y2="60.50"/></g>
<g font-family="Liberation Sans, sans-serif" fill="#000"><text x="494.8" y="33.0" font-size="30.47" textLength="172.97" lengthAdjust="spacingAndGlyphs" stroke="#000" stroke-width="0.3">12.11.2025</text><text x="678.6" y="33.0" font-size="30.47" textLength="87.63" lengthAdjust="spacingAndGlyphs" stroke="#000" stroke-width="0.3">12:50</text><text x="776.0" y="33.5" font-size="29.6" textLength="11.99" lengthAdjust="spacingAndGlyphs" stroke="#000" stroke-width="0.3">-</text><text x="796.4" y="33.0" font-size="30.47" textLength="87.63" lengthAdjust="spacingAndGlyphs" stroke="#000" stroke-width="0.3">12:54</text><text x="894.0" y="33.0" font-size="30.47" textLength="61.37" lengthAdjust="spacingAndGlyphs" stroke="#000" stroke-width="0.3">UTC</text><text x="73.4" y="31.3" font-size="14.7" textLength="212.13" lengthAdjust="spacingAndGlyphs">Product: Maximum Reflectivity</text><text x="632.4" y="456.0" font-size="23.97" textLength="184.49" lengthAdjust="spacingAndGlyphs" stroke="#000" stroke-width="0.3">South to North</text><text x="1350.7" y="441.2" font-size="14.26" textLength="24.23" lengthAdjust="spacingAndGlyphs">1e6</text><text x="41.0" y="56.64" font-size="20.04" textLength="21.7" lengthAdjust="spacingAndGlyphs" stroke="#000" stroke-width="0.3">12</text><text x="39.8" y="117.6" font-size="20.04" textLength="23.4" lengthAdjust="spacingAndGlyphs" stroke="#000" stroke-width="0.3">10</text><text x="52.6" y="178.76" font-size="20.04" textLength="11.87" lengthAdjust="spacingAndGlyphs" stroke="#000" stroke-width="0.3">8</text><text x="52.8" y="240.72" font-size="20.04" textLength="11.91" lengthAdjust="spacingAndGlyphs" stroke="#000" stroke-width="0.3">6</text><text x="54.0" y="302.68" font-size="20.04" textLength="10.63" lengthAdjust="spacingAndGlyphs" stroke="#000" stroke-width="0.3">4</text><text x="52.8" y="363.64" font-size="20.04" textLength="11.81" lengthAdjust="spacingAndGlyphs" stroke="#000" stroke-width="0.3">2</text><text x="52.0" y="425.6" font-size="20.04" textLength="12.28" lengthAdjust="spacingAndGlyphs" stroke="#000" stroke-width="0.3">0</text><text x="1419.4" y="414.2" font-size="21.52" textLength="13.5" lengthAdjust="spacingAndGlyphs" stroke="#000" stroke-width="0.3">0</text><text x="1419.8" y="364.97" font-size="21.52" textLength="26.23" lengthAdjust="spacingAndGlyphs" stroke="#000" stroke-width="0.3">10</text><text x="1419.8" y="315.74" font-size="21.52" textLength="26.09" lengthAdjust="spacingAndGlyphs" stroke="#000" stroke-width="0.3">20</text><text x="1419.8" y="266.51" font-size="21.52" textLength="26.09" lengthAdjust="spacingAndGlyphs" stroke="#000" stroke-width="0.3">30</text><text x="1420.8" y="217.29" font-size="21.52" textLength="25.09" lengthAdjust="spacingAndGlyphs" stroke="#000" stroke-width="0.3">40</text><text x="1419.8" y="168.06" font-size="21.52" textLength="26.13" lengthAdjust="spacingAndGlyphs" stroke="#000" stroke-width="0.3">50</text><text x="1419.8" y="118.83" font-size="21.52" textLength="26.09" lengthAdjust="spacingAndGlyphs" stroke="#000" stroke-width="0.3">60</text><text x="1419.8" y="68.6" font-size="21.52" textLength="26.09" lengthAdjust="spacingAndGlyphs" stroke="#000" stroke-width="0.3">70</text><text transform="translate(27.6,292.2) rotate(-90)" font-size="26.34" textLength="115.74" lengthAdjust="spacingAndGlyphs" stroke="#000" stroke-width="0.3">km AMSL</text><text transform="translate(1469.0,256.4) rotate(-90)" font-size="21.83" textLength="40.79" lengthAdjust="spacingAndGlyphs" stroke="#000" stroke-width="0.3">dBZ</text></g>
</svg>
</body></html>
